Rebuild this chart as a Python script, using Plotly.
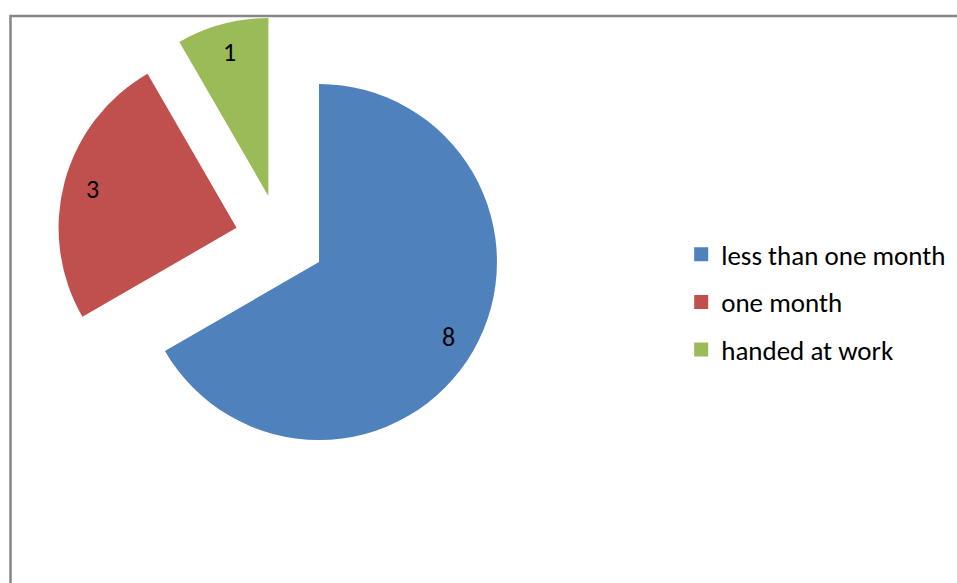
import math
import plotly.graph_objects as go

# Time taken to hand over, per category
categories = ["less than one month", "one month", "handed at work"]
counts = [8, 3, 1]
colors = ["#4F81BD", "#C0504D", "#9BBB59"]

FONT = "Carlito, Lato, 'Liberation Sans', sans-serif"
W, H = 957, 583
PULL = 0.253
DOMAIN_X = [0.0596, 0.5256]
DOMAIN_Y = [0.2067, 0.9717]
LABEL_R = 0.84  # data label distance from slice tip, as a fraction of radius

fig = go.Figure()

fig.add_trace(go.Pie(
    labels=categories,
    values=counts,
    sort=False,
    direction="clockwise",
    rotation=0,
    pull=[PULL] * len(counts),
    marker=dict(colors=colors, line=dict(width=0)),
    textinfo="none",
    domain=dict(x=DOMAIN_X, y=DOMAIN_Y),
    showlegend=False,
    hoverinfo="label+value+percent",
))

# Value labels placed near the outer edge of each exploded slice,
# using the same geometry plotly uses for the pie (radius shrinks by the pull)
box_w = (DOMAIN_X[1] - DOMAIN_X[0]) * W
box_h = (DOMAIN_Y[1] - DOMAIN_Y[0]) * H
radius = min(box_w, box_h) / (2 + 2 * PULL)
cx = (DOMAIN_X[0] + DOMAIN_X[1]) / 2 * W
cy = (DOMAIN_Y[0] + DOMAIN_Y[1]) / 2 * H
total = sum(counts)
start = 0.0
annotations = []
for v in counts:
    mid = (start + v / 2) / total * 2 * math.pi
    start += v
    dx, dy = math.sin(mid), math.cos(mid)
    d = radius * (PULL + LABEL_R)
    annotations.append(dict(
        x=(cx + d * dx) / W, y=(cy + d * dy) / H,
        xref="paper", yref="paper",
        text=str(v), showarrow=False,
        xanchor="center", yanchor="middle",
        font=dict(family=FONT, size=26, color="#000000"),
    ))

# Legend entries as square markers, one group each for even row spacing
for name, col in zip(categories, colors):
    fig.add_trace(go.Scatter(
        x=[None], y=[None], mode="markers", name=name,
        legendgroup=name,
        marker=dict(symbol="square", size=14, color=col),
        hoverinfo="skip",
    ))

fig.update_layout(
    width=W,
    height=H,
    margin=dict(l=0, r=0, t=0, b=0),
    paper_bgcolor="#FFFFFF",
    plot_bgcolor="#FFFFFF",
    xaxis=dict(visible=False),
    yaxis=dict(visible=False),
    font=dict(family=FONT, color="#000000"),
    annotations=annotations,
    legend=dict(
        x=0.7118, xanchor="left",
        y=0.605, yanchor="top",
        font=dict(family=FONT, size=27, color="#000000"),
        tracegroupgap=9.5,
        itemclick=False,
        bgcolor="rgba(0,0,0,0)",
    ),
    shapes=[dict(
        type="rect", xref="paper", yref="paper",
        x0=10.5 / W, x1=1.02, y0=-0.02, y1=(H - 16) / H,
        line=dict(color="#878787", width=2.5),
        fillcolor="rgba(0,0,0,0)",
        layer="below",
    )],
)

fig.write_html("out.html")
